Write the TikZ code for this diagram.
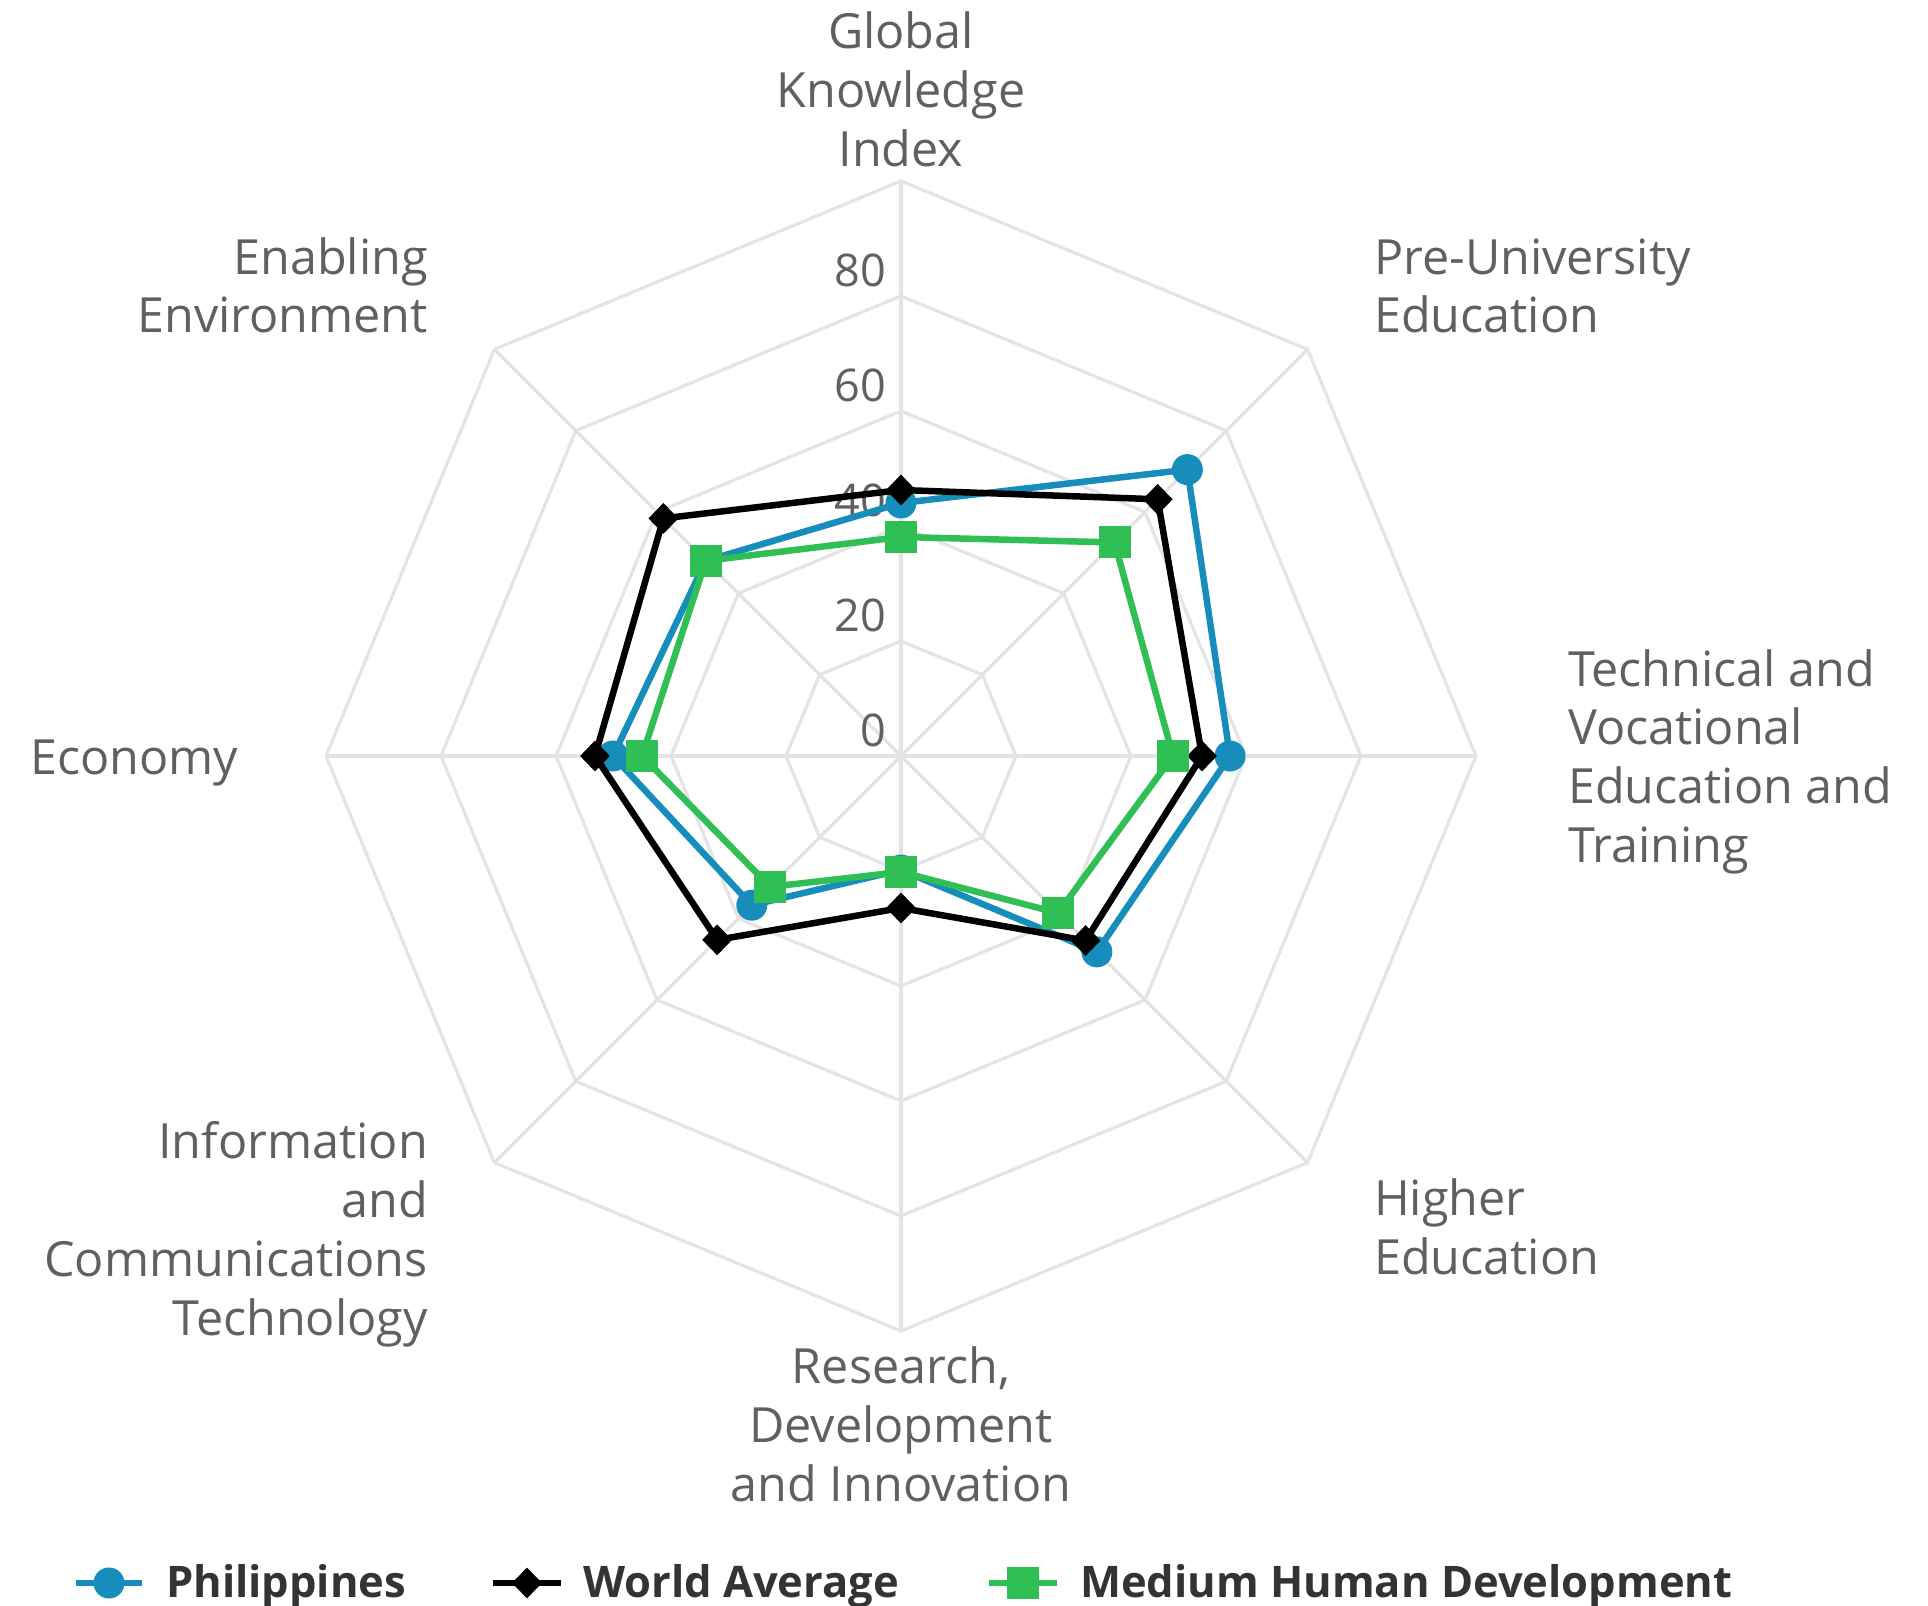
\documentclass[tikz,border=0pt]{standalone}
\usepackage{fontspec}
\setmainfont{Open Sans}
\usetikzlibrary{shapes.geometric}
\definecolor{phl}{HTML}{168DBA}
\definecolor{mhd}{HTML}{30BF55}
\definecolor{gridc}{HTML}{E4E4E4}
\definecolor{labc}{HTML}{606060}
\definecolor{legc}{HTML}{333333}
\begin{document}
\begin{tikzpicture}[x=1pt,y=1pt,
  gridline/.style={draw=gridc, line width=3.2pt, line join=round},
  catlabel/.style={inner sep=0pt, text=labc, font=\fontsize{48.5}{59}\selectfont},
  axlabel/.style={inner sep=0pt, text=labc, font=\fontsize{45}{54}\selectfont, anchor=base east},
  legtext/.style={inner sep=0pt, text=legc, font=\bfseries\fontsize{43.5}{52}\selectfont, anchor=base west},
  serline/.style={line width=6.5pt, line join=round},
  circmark/.style={circle, fill=phl, minimum size=31pt, inner sep=0pt},
  diamark/.style={diamond, fill=black, minimum width=30pt, minimum height=31pt, inner sep=0pt},
  sqmark/.style={rectangle, fill=mhd, minimum size=32pt, inner sep=0pt},
]
\useasboundingbox (-901,-850) rectangle (1027,756);
% grid
\foreach \r in {115,230,345,460,575}
  \draw[gridline] (90:\r) -- (45:\r) -- (0:\r) -- (-45:\r) -- (-90:\r) -- (-135:\r) -- (180:\r) -- (135:\r) -- cycle;
\foreach \a in {0,45,...,315}
  \draw[gridline] (0,0) -- (\a:575);
% axis labels
\node[axlabel] (ax0) at (-15,9) {0};
\node[axlabel] (ax20) at (-15,124) {20};
\node[axlabel] (ax40) at (-15,239) {40};
\node[axlabel] (ax60) at (-15,354) {60};
\node[axlabel] (ax80) at (-15,469) {80};
% category labels
\node[catlabel, anchor=base] (g1) at (0,707) {Global};
\node[catlabel, anchor=base] (g2) at (0,648) {Knowledge};
\node[catlabel, anchor=base] (g3) at (0,589) {Index};
\node[catlabel, anchor=base east] (e1) at (-473,481) {Enabling};
\node[catlabel, anchor=base east] (e2) at (-473,423) {Environment};
\node[catlabel, anchor=base west] (pu1) at (473,481) {Pre-University};
\node[catlabel, anchor=base west] (pu2) at (473,423) {Education};
\node[catlabel, anchor=base west] (t1) at (667,69) {Technical and};
\node[catlabel, anchor=base west] (t2) at (667,11) {Vocational};
\node[catlabel, anchor=base west] (t3) at (667,-48) {Education and};
\node[catlabel, anchor=base west] (t4) at (667,-106) {Training};
\node[catlabel, anchor=base west] (h1) at (473,-459) {Higher};
\node[catlabel, anchor=base west] (h2) at (473,-518) {Education};
\node[catlabel, anchor=base] (r1) at (0,-627) {Research,};
\node[catlabel, anchor=base] (r2) at (0,-686) {Development};
\node[catlabel, anchor=base] (r3) at (0,-745) {and Innovation};
\node[catlabel, anchor=base east] (i1) at (-473,-402) {Information};
\node[catlabel, anchor=base east] (i2) at (-473,-461) {and};
\node[catlabel, anchor=base east] (i3) at (-473,-520) {Communications};
\node[catlabel, anchor=base east] (i4) at (-473,-579) {Technology};
\node[catlabel, anchor=base west] (ec) at (-871,-19) {Economy};
% series coordinates
\foreach \a/\r [count=\i] in {90/253,45/405,0/329,-45/277,-90/114,-135/211,180/288,135/276}
  \coordinate (p\i) at (\a:\r);
\foreach \a/\r [count=\i] in {90/266,45/363,0/301,-45/261,-90/152,-135/260,180/306,135/336}
  \coordinate (w\i) at (\a:\r);
\foreach \a/\r [count=\i] in {90/219,45/302,0/272,-45/222,-90/116,-135/185,180/259,135/276}
  \coordinate (m\i) at (\a:\r);
% Philippines
\draw[serline, phl] (p1) -- (p2) -- (p3) -- (p4) -- (p5) -- (p6) -- (p7) -- (p8) -- cycle;
\foreach \i in {1,...,8} \node[circmark] (pm\i) at (p\i) {};
% World Average
\draw[serline, black] (w1) -- (w2) -- (w3) -- (w4) -- (w5) -- (w6) -- (w7) -- (w8) -- cycle;
\foreach \i in {1,...,8} \node[diamark] (wm\i) at (w\i) {};
% Medium Human Development
\draw[serline, mhd] (m1) -- (m2) -- (m3) -- (m4) -- (m5) -- (m6) -- (m7) -- (m8) -- cycle;
\foreach \i in {1,...,8} \node[sqmark] (mm\i) at (m\i) {};
% legend
\coordinate (la1) at (-825,-827); \coordinate (la2) at (-759,-827);
\draw[line width=6pt, phl] (la1) -- (la2);
\node[circmark] (lam) at (-792,-827) {};
\node[legtext] (lat) at (-735,-841) {Philippines};
\coordinate (lb1) at (-408,-827); \coordinate (lb2) at (-340,-827);
\draw[line width=6pt, black] (lb1) -- (lb2);
\node[diamark] (lbm) at (-374,-827) {};
\node[legtext] (lbt) at (-318,-841) {World Average};
\coordinate (lc1) at (88,-827); \coordinate (lc2) at (156,-827);
\draw[line width=6pt, mhd] (lc1) -- (lc2);
\node[sqmark] (lcm) at (122,-827) {};
\node[legtext] (lct) at (179,-841) {Medium Human Development};
\end{tikzpicture}
\end{document}
